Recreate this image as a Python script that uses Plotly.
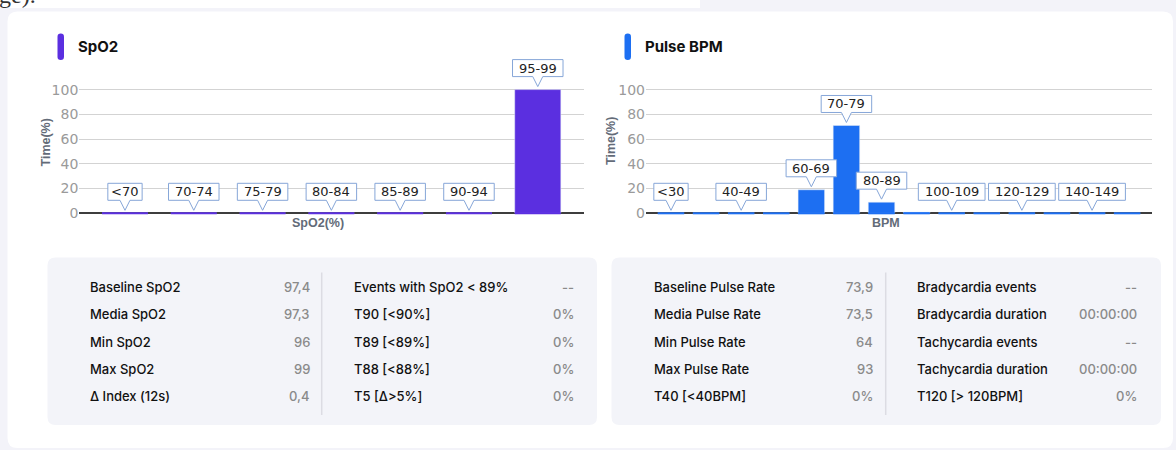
import plotly.graph_objects as go

W, H = 1176, 450

# ---------------- data ----------------
spo2_categories = ["<70", "70-74", "75-79", "80-84", "85-89", "90-94", "95-99"]
spo2_values = [0, 0, 0, 0, 0, 0, 100]
spo2_labels = ["<70", "70-74", "75-79", "80-84", "85-89", "90-94", "95-99"]

pulse_categories = ["<30", "30-39", "40-49", "50-59", "60-69", "70-79", "80-89",
                    "90-99", "100-109", "110-119", "120-129", "130-139", "140-149", ">150"]
pulse_values = [0, 0, 0, 0, 19, 71, 9, 1, 0, 0, 0, 0, 0, 0]
pulse_labels = ["<30", "", "40-49", "", "60-69", "70-79", "80-89",
                "", "100-109", "", "120-129", "", "140-149", ""]

y_ticks = [0, 20, 40, 60, 80, 100]

spo2_stats_left = ["Baseline SpO2", "Media SpO2", "Min SpO2", "Max SpO2", "Δ Index (12s)"]
spo2_stats_left_values = ["97,4", "97,3", "96", "99", "0,4"]
spo2_stats_right = ["Events with SpO2 < 89%", "T90 [<90%]", "T89 [<89%]", "T88 [<88%]", "T5 [Δ>5%]"]
spo2_stats_right_values = ["--", "0%", "0%", "0%", "0%"]

pulse_stats_left = ["Baseline Pulse Rate", "Media Pulse Rate", "Min Pulse Rate", "Max Pulse Rate", "T40 [<40BPM]"]
pulse_stats_left_values = ["73,9", "73,5", "64", "93", "0%"]
pulse_stats_right = ["Bradycardia events", "Bradycardia duration", "Tachycardia events",
                     "Tachycardia duration", "T120 [> 120BPM]"]
pulse_stats_right_values = ["--", "00:00:00", "--", "00:00:00", "0%"]

# ---------------- style ----------------
PURPLE = "#5b2fe0"
BLUE = "#1d6ff2"
BOX_BORDER = "#86a6d8"
LAVENDER = "#f3f3f9"
PANEL = "#f3f4f9"


def fx(px):
    return px / W


def fy(py):
    return 1 - py / H


def rrect_path(x0, y0, x1, y1, r):
    # rounded rectangle in paper coordinates, given pixel corners (top-left origin)
    X = fx
    Y = fy
    return (f"M{X(x0 + r)},{Y(y0)} L{X(x1 - r)},{Y(y0)} Q{X(x1)},{Y(y0)} {X(x1)},{Y(y0 + r)} "
            f"L{X(x1)},{Y(y1 - r)} Q{X(x1)},{Y(y1)} {X(x1 - r)},{Y(y1)} L{X(x0 + r)},{Y(y1)} "
            f"Q{X(x0)},{Y(y1)} {X(x0)},{Y(y1 - r)} L{X(x0)},{Y(y0 + r)} Q{X(x0)},{Y(y0)} {X(x0 + r)},{Y(y0)} Z")


shapes = []
annotations = []


def paper_shape(path, fill, layer="below"):
    shapes.append(dict(type="path", xref="paper", yref="paper", path=path,
                       fillcolor=fill, line=dict(width=0), layer=layer))


# page strip at the very top-left and background card
shapes.append(dict(type="rect", xref="paper", yref="paper", x0=0, x1=fx(700), y0=fy(8), y1=1,
                   fillcolor="white", line=dict(width=0), layer="below"))
paper_shape(rrect_path(7.5, 11.5, 1173, 448, 10), "white")

# stat panels
paper_shape(rrect_path(47.5, 257.5, 597, 425, 8), PANEL)
paper_shape(rrect_path(611.5, 257.5, 1161, 425, 8), PANEL)
for xd in (321.7, 885.7):
    shapes.append(dict(type="line", xref="paper", yref="paper", x0=fx(xd), x1=fx(xd),
                       y0=fy(272.5), y1=fy(415), line=dict(color="#dcdce3", width=1.5),
                       layer="below"))

# title pills
paper_shape(rrect_path(57.5, 33.5, 64, 60, 3.2), PURPLE)
paper_shape(rrect_path(624.5, 33.5, 631, 60, 3.2), BLUE)

TITLE_FONT = dict(family="Inter, Liberation Sans, Arial", size=15, color="#111", weight=700)
annotations.append(dict(text="SpO2", x=fx(76), y=fy(46.5), xref="paper", yref="paper",
                        xanchor="left", yanchor="middle", showarrow=False, font=TITLE_FONT))
annotations.append(dict(text="Pulse BPM", x=fx(643), y=fy(46.5), xref="paper", yref="paper",
                        xanchor="left", yanchor="middle", showarrow=False, font=TITLE_FONT))

# cut-off page text at the top
annotations.append(dict(text="ge).", x=fx(-3), y=fy(-5), xref="paper", yref="paper",
                        xanchor="left", yanchor="middle", showarrow=False,
                        font=dict(family="Liberation Serif", size=24, color="#333")))

# axis titles
AX_TITLE_FONT = dict(family="Liberation Sans, Arial", size=12.5, color="#636b78")
for (xt, yt, txt, ang) in [(45, 142.5, "<b>Time(%)</b>", -90), (611, 141, "<b>Time(%)</b>", -90),
                           (318, 223, "<b>SpO2(%)</b>", 0), (886, 222.5, "<b>BPM</b>", 0)]:
    annotations.append(dict(text=txt, x=fx(xt), y=fy(yt), xref="paper", yref="paper",
                            xanchor="center", yanchor="middle", showarrow=False, textangle=ang,
                            font=AX_TITLE_FONT))

# data-label callouts
CHAR_W = 8.1


def callouts(cats, vals, labels, xref, yref):
    for c, v, lab in zip(cats, vals, labels):
        if not lab:
            continue
        w = len(lab) * CHAR_W + 10
        h2 = w / 2
        path = (f"M0,3 L5,13 L{h2},13 L{h2},30 L{-h2},30 L{-h2},13 L-5,13 Z")
        shapes.append(dict(type="path", xref=xref, yref=yref, xsizemode="pixel",
                           ysizemode="pixel", xanchor=c, yanchor=v, path=path,
                           fillcolor="white", line=dict(color=BOX_BORDER, width=1),
                           layer="above"))
        annotations.append(dict(text=lab, x=c, y=v, xref=xref, yref=yref, showarrow=False,
                                xanchor="center", yanchor="middle", yshift=21.5,
                                font=dict(family="DejaVu Sans", size=13, color="#222")))


callouts(spo2_categories, spo2_values, spo2_labels, "x", "y")
callouts(pulse_categories, pulse_values, pulse_labels, "x2", "y2")

# stats tables
ROW_Y = [287.3, 314.4, 341.5, 368.6, 395.7]
LBL_FONT = dict(family="Inter, Liberation Sans, Arial", size=13, color="#111", weight=500)
VAL_FONT = dict(family="Inter, Liberation Sans, Arial", size=13, color="#8a8a8a", weight=500)


def table(labels, values, xl, xr):
    for yy, lab, val in zip(ROW_Y, labels, values):
        annotations.append(dict(text=lab, x=fx(xl), y=fy(yy), xref="paper", yref="paper",
                                xanchor="left", yanchor="middle", showarrow=False, font=LBL_FONT))
        annotations.append(dict(text=val, x=fx(xr), y=fy(yy), xref="paper", yref="paper",
                                xanchor="right", yanchor="middle", showarrow=False, font=VAL_FONT))


table(spo2_stats_left, spo2_stats_left_values, 88, 312)
table(spo2_stats_right, spo2_stats_right_values, 351.5, 575.5)
table(pulse_stats_left, pulse_stats_left_values, 651.5, 875)
table(pulse_stats_right, pulse_stats_right_values, 915, 1138.5)

# ---------------- traces ----------------
fig = go.Figure()
fig.add_trace(go.Bar(x=spo2_categories, y=spo2_values, width=0.67, marker=dict(color=PURPLE),
                     xaxis="x", yaxis="y", showlegend=False))
fig.add_trace(go.Scatter(x=spo2_categories, y=[0] * len(spo2_categories), mode="markers",
                         marker=dict(symbol="line-ew", size=46 / 1.4, color=PURPLE,
                                     line=dict(color=PURPLE, width=2)),
                         cliponaxis=False, xaxis="x", yaxis="y", showlegend=False,
                         hoverinfo="skip"))
fig.add_trace(go.Bar(x=pulse_categories, y=pulse_values, width=0.755, marker=dict(color=BLUE),
                     xaxis="x2", yaxis="y2", showlegend=False))
fig.add_trace(go.Scatter(x=pulse_categories, y=[0] * len(pulse_categories), mode="markers",
                         marker=dict(symbol="line-ew", size=26.5 / 1.4, color=BLUE,
                                     line=dict(color=BLUE, width=2)),
                         cliponaxis=False, xaxis="x2", yaxis="y2", showlegend=False,
                         hoverinfo="skip"))

# y: 0 -> 213.3 px, 100 -> 89.6 px ; range extended to 125 so callouts above 100 are not clipped
PX_PER_UNIT = (213.3 - 89.6) / 100
Y_TOP = 125
YDOM = [fy(213.3), fy(213.3 - Y_TOP * PX_PER_UNIT)]
yaxis_common = dict(domain=YDOM, range=[0, Y_TOP], tickvals=y_ticks, showgrid=True,
                    gridcolor="#d3d3d3", gridwidth=1, zeroline=True, zerolinecolor="#3d3d3d",
                    zerolinewidth=2, showline=False, ticks="", automargin=False,
                    tickfont=dict(family="DejaVu Sans", size=14, color="#9a9a9a"),
                    fixedrange=True)
xaxis_common = dict(type="category", showticklabels=False, showgrid=False, zeroline=False,
                    showline=False, ticks="", fixedrange=True, automargin=False)

fig.update_layout(
    width=W, height=H, autosize=False, margin=dict(l=0, r=0, t=0, b=0, autoexpand=False),
    paper_bgcolor=LAVENDER, plot_bgcolor="rgba(0,0,0,0)",
    xaxis=dict(domain=[fx(79.3), fx(584)], range=[-0.664, 6.672], **xaxis_common),
    yaxis=dict(anchor="x", **yaxis_common),
    xaxis2=dict(domain=[fx(646), fx(1151.7)], range=[-0.712, 13.70], anchor="y2", **xaxis_common),
    yaxis2=dict(anchor="x2", **yaxis_common),
    shapes=shapes, annotations=annotations, showlegend=False,
)

PAGE_FIX = ("var d=document.documentElement,b=document.body;"
            "d.style.margin='0';d.style.padding='0';d.style.overflow='hidden';"
            "b.style.margin='0';b.style.padding='0';b.style.overflow='hidden';")

fig.write_html("out.html", config={"displayModeBar": False, "responsive": False},
               post_script=PAGE_FIX)
